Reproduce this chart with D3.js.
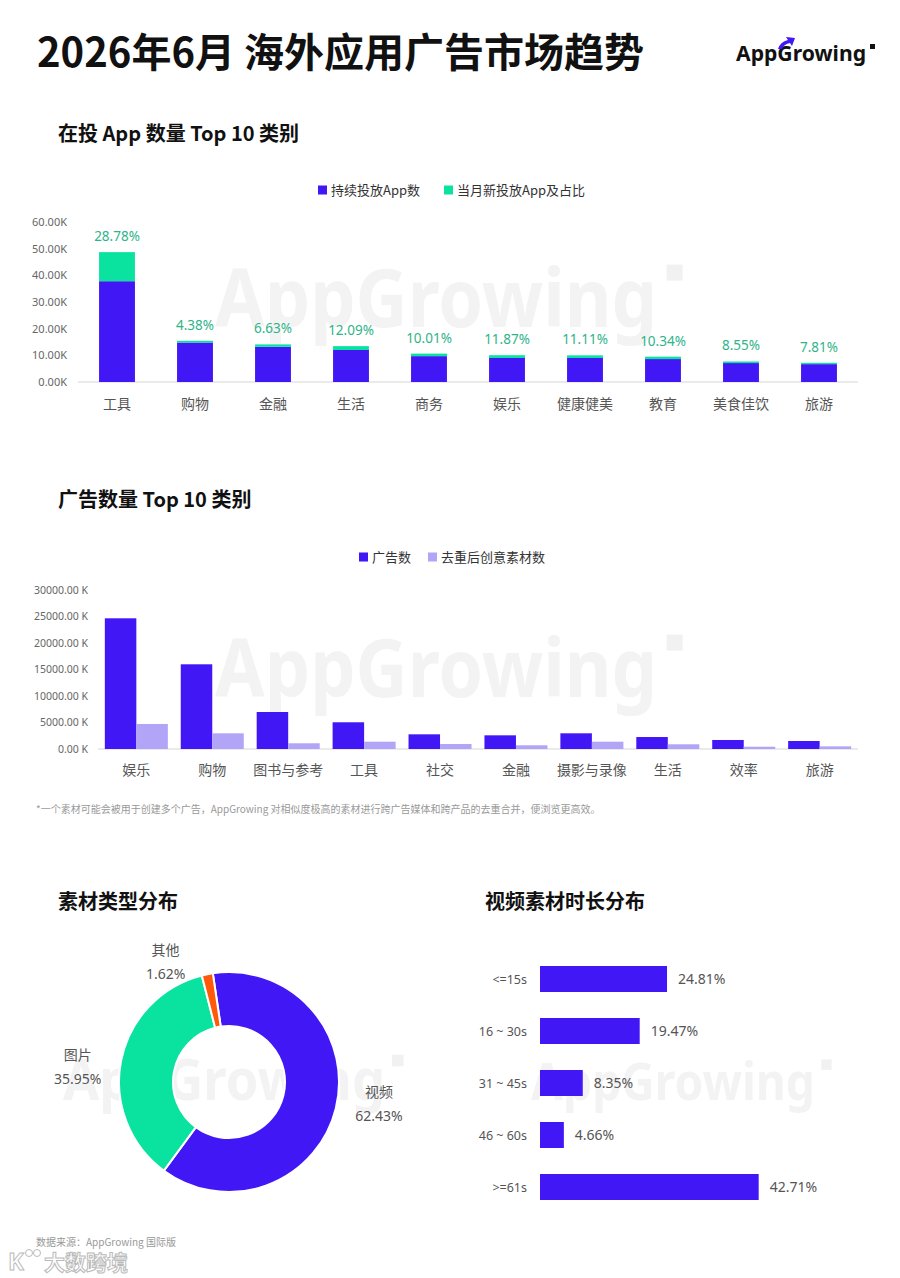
<!DOCTYPE html>
<html lang="zh">
<head>
<meta charset="UTF-8">
<title>2026年6月 海外应用广告市场趋势</title>
<script src="https://cdnjs.cloudflare.com/ajax/libs/d3/7.8.5/d3.min.js"></script>
<style>
    body { margin: 0; background: #fff; }
    svg { display: block; font-family: "Noto Sans CJK SC", "Noto Sans", sans-serif; }
</style>
</head>
<body>
<svg width="900" height="1278" viewBox="0 0 900 1278"></svg>
<script>
    // ---- data: 在投 App 数量 Top 10 类别 (K)
    const appCats = ["工具", "购物", "金融", "生活", "商务", "娱乐", "健康健美", "教育", "美食佳饮", "旅游"];
    const appContinuing = [37.8, 14.8, 13.2, 12.0, 9.7, 9.0, 9.0, 8.6, 7.1, 6.7];
    const appNew = [10.9, 0.65, 0.9, 1.45, 0.95, 1.05, 1.0, 0.9, 0.6, 0.5];
    const appNewPct = ["28.78%", "4.38%", "6.63%", "12.09%", "10.01%", "11.87%", "11.11%", "10.34%", "8.55%", "7.81%"];
    const appTicks = [0, 10, 20, 30, 40, 50, 60];

    // ---- data: 广告数量 Top 10 类别 (K)
    const adCats = ["娱乐", "购物", "图书与参考", "工具", "社交", "金融", "摄影与录像", "生活", "效率", "旅游"];
    const adCounts = [24660, 15980, 6980, 5040, 2770, 2580, 2960, 2260, 1700, 1510];
    const adCreatives = [4720, 2960, 1080, 1380, 940, 700, 1380, 890, 430, 500];
    const adTicks = [0, 5000, 10000, 15000, 20000, 25000, 30000];

    // ---- data: 素材类型分布
    const typeNames = ["视频", "图片", "其他"];
    const typeShares = [62.43, 35.95, 1.62];

    // ---- data: 视频素材时长分布
    const durNames = ["<=15s", "16 ~ 30s", "31 ~ 45s", "46 ~ 60s", ">=61s"];
    const durShares = [24.81, 19.47, 8.35, 4.66, 42.71];

    const BLUE = "#4117f6", GREEN = "#0ae3a0", LILAC = "#b2a5f8", ORANGE = "#ff5a0a";
    const GREEN_TXT = "#2fb489", TXT = "#555", TICK = "#666";

    const svg = d3.select("svg");
    svg.append("rect").attr("width", 900).attr("height", 1278).attr("fill", "#fff");

    // faint brand watermark behind charts
    function watermark(x, y, size, width) {
        const g = svg.append("g");
        g.append("text").attr("x", x).attr("y", y)
            .attr("font-family", "Noto Sans, sans-serif").attr("font-weight", 700)
            .attr("font-size", size).attr("fill", "#f3f3f3")
            .attr("textLength", width).attr("lengthAdjust", "spacingAndGlyphs")
            .text("AppGrowing");
        g.append("rect").attr("x", x + width + size * 0.12).attr("y", y - size * 0.78)
            .attr("width", size * 0.2).attr("height", size * 0.2).attr("fill", "#f1f1f1");
    }

    // ---- header
    svg.append("text").attr("x", 37).attr("y", 67)
        .attr("font-size", 40).attr("font-weight", 700).attr("fill", "#111")
        .text("2026年6月 海外应用广告市场趋势");

    const logo = svg.append("g");
    logo.append("text").attr("x", 736).attr("y", 61)
        .attr("font-family", "Noto Sans, sans-serif").attr("font-weight", 700)
        .attr("font-size", 21).attr("fill", "#111")
        .attr("textLength", 130).attr("lengthAdjust", "spacingAndGlyphs")
        .text("AppGrowing");
    logo.append("path").attr("d", "M778,49 Q780,42 788,40 L786,37 L795,38 L792,46 L790,43 Q784,44 782,49 Z").attr("fill", BLUE);
    logo.append("rect").attr("x", 870).attr("y", 44).attr("width", 5).attr("height", 5).attr("fill", "#111");

    function sectionTitle(x, y, t) {
        svg.append("text").attr("x", x).attr("y", y).attr("font-size", 20)
            .attr("font-weight", 700).attr("fill", "#111").text(t);
    }

    function legend(items, y) {
        items.forEach(it => {
            svg.append("rect").attr("x", it.x).attr("y", y - 4.5).attr("width", 9).attr("height", 9).attr("fill", it.color);
            svg.append("text").attr("x", it.x + 13).attr("y", y + 4.5).attr("font-size", 13)
                .attr("fill", "#333").text(it.label);
        });
    }

    // ================= chart 1: stacked bars
    sectionTitle(58, 141, "在投 App 数量 Top 10 类别");
    watermark(215, 327, 80, 442);
    legend([{ x: 318, color: BLUE, label: "持续投放App数" }, { x: 444, color: GREEN, label: "当月新投放App及占比" }], 190);

    const x1 = d3.scaleBand().domain(appCats).range([78, 858]).paddingInner(0.54).paddingOuter(0.27);
    const y1 = d3.scaleLinear().domain([0, 60]).range([382, 222]);

    const ax1 = svg.append("g").attr("transform", "translate(78,0)")
        .call(d3.axisLeft(y1).tickValues(appTicks).tickSize(0).tickPadding(11).tickFormat(d => d.toFixed(2) + "K"));
    ax1.select(".domain").remove();
    ax1.selectAll("text").attr("font-size", 11).attr("fill", TICK).attr("font-family", "Noto Sans, sans-serif");

    svg.append("line").attr("x1", 78).attr("x2", 858).attr("y1", y1(0)).attr("y2", y1(0))
        .attr("stroke", "#e3e3e3").attr("stroke-width", 1.5);

    const g1 = svg.append("g");
    g1.selectAll(".cont").data(appCats).enter().append("rect")
        .attr("x", d => x1(d)).attr("width", x1.bandwidth())
        .attr("y", (d, i) => y1(appContinuing[i]))
        .attr("height", (d, i) => y1(0) - y1(appContinuing[i]))
        .attr("fill", BLUE);
    g1.selectAll(".new").data(appCats).enter().append("rect")
        .attr("x", d => x1(d)).attr("width", x1.bandwidth())
        .attr("y", (d, i) => y1(appContinuing[i] + appNew[i]))
        .attr("height", (d, i) => y1(appContinuing[i]) - y1(appContinuing[i] + appNew[i]))
        .attr("fill", GREEN);
    g1.selectAll(".pct").data(appCats).enter().append("text")
        .attr("x", d => x1(d) + x1.bandwidth() / 2)
        .attr("y", (d, i) => y1(appContinuing[i] + appNew[i]) - 11)
        .attr("text-anchor", "middle").attr("font-size", 13.5).attr("fill", GREEN_TXT)
        .attr("font-family", "Noto Sans, sans-serif")
        .text((d, i) => appNewPct[i]);
    g1.selectAll(".cat").data(appCats).enter().append("text")
        .attr("x", d => x1(d) + x1.bandwidth() / 2).attr("y", 409)
        .attr("text-anchor", "middle").attr("font-size", 14).attr("fill", TXT)
        .text(d => d);

    // ================= chart 2: grouped bars
    sectionTitle(58, 507, "广告数量 Top 10 类别");
    watermark(215, 697, 80, 442);
    legend([{ x: 359, color: BLUE, label: "广告数" }, { x: 428, color: LILAC, label: "去重后创意素材数" }], 557);

    const x2 = d3.scaleBand().domain(adCats).range([98, 858]).paddingInner(0.17).paddingOuter(0.09);
    const x2s = d3.scaleBand().domain(["ads", "creatives"]).range([0, x2.bandwidth()]);
    const y2 = d3.scaleLinear().domain([0, 30000]).range([749, 590]);

    const ax2 = svg.append("g").attr("transform", "translate(98,0)")
        .call(d3.axisLeft(y2).tickValues(adTicks).tickSize(0).tickPadding(10).tickFormat(d => d.toFixed(2) + " K"));
    ax2.select(".domain").remove();
    ax2.selectAll("text").attr("font-size", 10.5).attr("fill", TICK).attr("font-family", "Noto Sans, sans-serif");

    svg.append("line").attr("x1", 98).attr("x2", 858).attr("y1", y2(0)).attr("y2", y2(0))
        .attr("stroke", "#e3e3e3").attr("stroke-width", 1.5);

    const g2 = svg.append("g");
    g2.selectAll(".ads").data(adCats).enter().append("rect")
        .attr("x", d => x2(d) + x2s("ads")).attr("width", x2s.bandwidth())
        .attr("y", (d, i) => y2(adCounts[i])).attr("height", (d, i) => y2(0) - y2(adCounts[i]))
        .attr("fill", BLUE);
    g2.selectAll(".cre").data(adCats).enter().append("rect")
        .attr("x", d => x2(d) + x2s("creatives")).attr("width", x2s.bandwidth())
        .attr("y", (d, i) => y2(adCreatives[i])).attr("height", (d, i) => y2(0) - y2(adCreatives[i]))
        .attr("fill", LILAC);
    g2.selectAll(".cat").data(adCats).enter().append("text")
        .attr("x", d => x2(d) + x2.bandwidth() / 2).attr("y", 775)
        .attr("text-anchor", "middle").attr("font-size", 14).attr("fill", TXT)
        .text(d => d);

    svg.append("text").attr("x", 36).attr("y", 813).attr("font-size", 10).attr("fill", "#999")
        .text("*一个素材可能会被用于创建多个广告，AppGrowing 对相似度极高的素材进行跨广告媒体和跨产品的去重合并，便浏览更高效。");

    // ================= chart 3: donut
    sectionTitle(58, 909, "素材类型分布");
    sectionTitle(485, 909, "视频素材时长分布");
    watermark(63, 1100, 58, 322);
    watermark(531, 1100, 52, 284);

    const cx = 229, cy = 1082;
    const start = -0.148;
    const pie = d3.pie().sort(null).startAngle(start).endAngle(start + 2 * Math.PI);
    const arcs = pie(typeShares);
    const arc = d3.arc().innerRadius(56).outerRadius(110);
    const labelArc = d3.arc().innerRadius(130).outerRadius(130);
    const pieColors = [BLUE, GREEN, ORANGE];

    const gp = svg.append("g").attr("transform", `translate(${cx},${cy})`);
    gp.selectAll("path").data(arcs).enter().append("path")
        .attr("d", arc).attr("fill", (d, i) => pieColors[i])
        .attr("stroke", "#fff").attr("stroke-width", 2);

    // small-slice labels get pushed outward like the original layout
    const nudge = [[0, -9], [0, 10], [-18, 7]];
    arcs.forEach((a, i) => {
        const [px, py] = labelArc.centroid(a);
        const right = px > 0;
        const g = gp.append("g");
        const v = g.append("text").attr("font-size", 14).attr("fill", TXT)
            .attr("font-family", "Noto Sans, sans-serif")
            .attr("text-anchor", "middle").text(typeShares[i].toFixed(2) + "%");
        const w = v.node().getComputedTextLength();
        const mx = px + (right ? w / 2 : -w / 2) + nudge[i][0];
        const my = py + nudge[i][1];
        v.attr("x", mx).attr("y", my + 17);
        g.append("text").attr("x", mx).attr("y", my - 7).attr("font-size", 14).attr("fill", TXT)
            .attr("text-anchor", "middle").text(typeNames[i]);
    });

    // ================= chart 4: horizontal bars
    const y4 = d3.scaleBand().domain(durNames).range([953, 1213]).paddingInner(0.5).paddingOuter(0.25);
    const x4 = d3.scaleLinear().domain([0, 50]).range([540, 796]);

    const g4 = svg.append("g");
    g4.selectAll("rect").data(durNames).enter().append("rect")
        .attr("x", x4(0)).attr("y", d => y4(d))
        .attr("width", (d, i) => x4(durShares[i]) - x4(0)).attr("height", y4.bandwidth())
        .attr("fill", BLUE);
    g4.selectAll(".lab").data(durNames).enter().append("text")
        .attr("x", 527).attr("y", d => y4(d) + y4.bandwidth() / 2 + 4.5)
        .attr("text-anchor", "end").attr("font-size", 12.5).attr("fill", TXT)
        .attr("font-family", "Noto Sans, sans-serif")
        .text(d => d);
    g4.selectAll(".val").data(durNames).enter().append("text")
        .attr("x", (d, i) => x4(durShares[i]) + 11).attr("y", d => y4(d) + y4.bandwidth() / 2 + 5)
        .attr("font-size", 14).attr("fill", TXT)
        .attr("font-family", "Noto Sans, sans-serif")
        .text((d, i) => durShares[i].toFixed(2) + "%");

    // ---- footer
    svg.append("text").attr("x", 36).attr("y", 1246).attr("font-size", 10).attr("fill", "#999")
        .text("数据来源：AppGrowing 国际版");
    const wm = svg.append("g").attr("opacity", 0.8);
    wm.append("text").attr("x", 8).attr("y", 1270).attr("font-size", 24).attr("font-weight", 700)
        .attr("font-family", "Noto Sans, sans-serif")
        .attr("fill", "#fff").attr("stroke", "#aaa").attr("stroke-width", 1).text("K");
    wm.append("circle").attr("cx", 29).attr("cy", 1253).attr("r", 3.5).attr("fill", "none").attr("stroke", "#aaa");
    wm.append("circle").attr("cx", 37).attr("cy", 1253).attr("r", 3.5).attr("fill", "none").attr("stroke", "#aaa");
    wm.append("text").attr("x", 44).attr("y", 1270).attr("font-size", 21).attr("font-weight", 700)
        .attr("fill", "#fff").attr("stroke", "#aaa").attr("stroke-width", 1).text("大数跨境");
</script>
</body>
</html>
